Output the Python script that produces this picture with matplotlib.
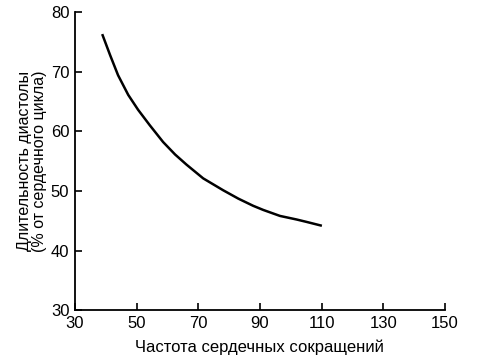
import matplotlib
matplotlib.use("Agg")
import matplotlib.pyplot as plt

heart_rate = [39.0, 41.4, 44.0, 47.3, 50.5, 54.3, 58.6, 62.5, 66.2, 71.6, 78.1, 83.0,
              87.8, 91.1, 96.5, 101.9, 105.1, 109.7]
diastole_pct = [76.1, 72.8, 69.4, 66.1, 63.6, 61.0, 58.2, 56.1, 54.4, 52.1, 50.1, 48.7,
                47.5, 46.8, 45.8, 45.2, 44.8, 44.2]
x_ticks = [30, 50, 70, 90, 110, 130, 150]
y_ticks = [30, 40, 50, 60, 70, 80]

plt.rcParams['font.family'] = ['Liberation Sans', 'DejaVu Sans']

fig = plt.figure(figsize=(4.8, 3.64), dpi=100)
ax = fig.add_axes([0.156, 0.148, 0.771, 0.819])
ax.plot(heart_rate, diastole_pct, color='black', lw=1.8, solid_joinstyle='round')
ax.set_xlim(30, 150)
ax.set_ylim(30, 80)
ax.set_xticks(x_ticks)
ax.set_yticks(y_ticks)
ax.spines['top'].set_visible(False)
ax.spines['right'].set_visible(False)
for s in ('left', 'bottom'):
    ax.spines[s].set_linewidth(1.3)
ax.tick_params(direction='in', length=5, width=1.2, labelsize=12, pad=4)
ax.set_xlabel('Частота сердечных сокращений', fontsize=12, labelpad=6)
ax.set_ylabel('Длительность диастолы\n(% от сердечного цикла)', fontsize=11.5, labelpad=3, linespacing=1.0)
fig.savefig('out.png', dpi=100)
